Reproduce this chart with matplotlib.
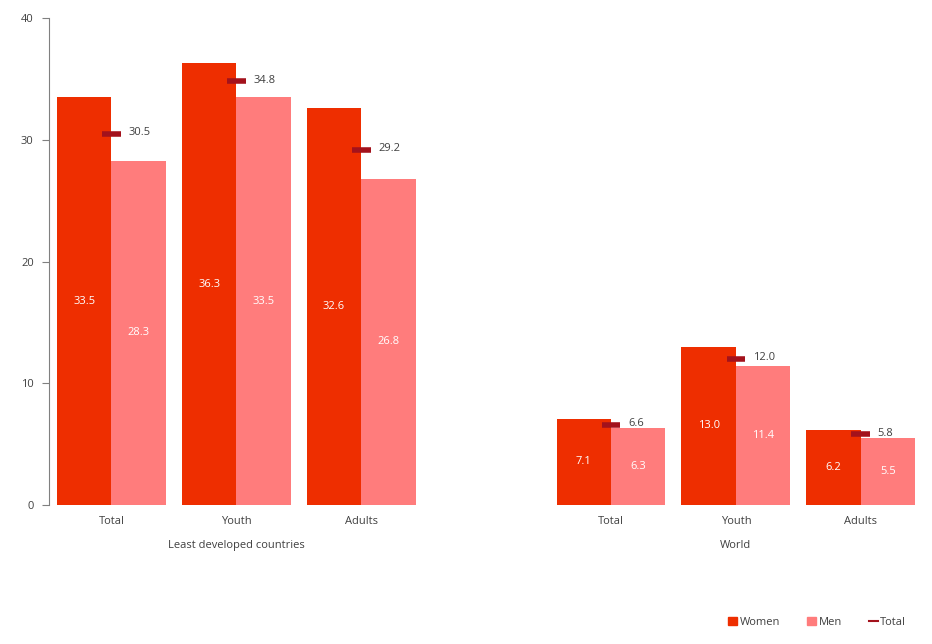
import matplotlib.pyplot as plt
from matplotlib.lines import Line2D
from matplotlib.patches import Patch

plt.rcParams['font.family'] = ['Open Sans', 'DejaVu Sans']

groups = ["Least developed countries", "World"]
categories = ["Total", "Youth", "Adults", "Total", "Youth", "Adults"]
women = [33.5, 36.3, 32.6, 7.1, 13.0, 6.2]
men = [28.3, 33.5, 26.8, 6.3, 11.4, 5.5]
total = [30.5, 34.8, 29.2, 6.6, 12.0, 5.8]

positions = [0, 1, 2, 4, 5, 6]
group_centers = [1, 5]

c_women = "#EE2E00"
c_men = "#FF7C7C"
c_total = "#A3121C"
txt = "#404040"
fs = 8

fig = plt.figure(figsize=(9.32, 6.44), dpi=100)
ax = fig.add_axes([0.0526, 0.2158, 0.938, 0.756])

w = 0.436
xw = [p - w / 2 for p in positions]
xm = [p + w / 2 for p in positions]
ax.bar(xw, women, width=w, color=c_women)
ax.bar(xm, men, width=w, color=c_men)
ax.hlines(total, [p - 0.075 for p in positions], [p + 0.075 for p in positions],
          color=c_total, linewidth=4)

for x, v in zip(xw, women):
    ax.text(x, v / 2, f"{v:.1f}", ha="center", va="center", color="white", fontsize=fs)
for x, v in zip(xm, men):
    ax.text(x, v / 2, f"{v:.1f}", ha="center", va="center", color="white", fontsize=fs)
for p, v in zip(positions, total):
    ax.text(p + 0.135, v + 0.1, f"{v:.1f}", ha="left", va="center", color=txt, fontsize=fs)

ax.set_xlim(-0.5, 6.5)
ax.set_ylim(0, 40)
ax.set_yticks([0, 10, 20, 30, 40])
ax.set_xticks(positions)
ax.set_xticklabels(categories)
ax.tick_params(axis="x", length=0, pad=8, labelsize=fs, labelcolor=txt)
ax.tick_params(axis="y", length=5, color="#808080", labelsize=fs, labelcolor=txt, pad=6)
for s in ["top", "right", "bottom"]:
    ax.spines[s].set_visible(False)
ax.spines["left"].set_color("#808080")

for gx, g in zip(group_centers, groups):
    ax.text(gx, -3.3, g, ha="center", va="center", color=txt, fontsize=fs)

handles = [Patch(color=c_women, label="Women"),
           Patch(color=c_men, label="Men"),
           Line2D([0], [0], color=c_total, linewidth=1.5, label="Total")]
fig.legend(handles=handles, loc="center right", bbox_to_anchor=(0.983, 0.034), ncol=3,
           frameon=False, fontsize=fs, handlelength=0.8, handleheight=0.8,
           columnspacing=2.4, handletextpad=0.25, labelcolor=txt)

fig.savefig("out.png", dpi=100)
